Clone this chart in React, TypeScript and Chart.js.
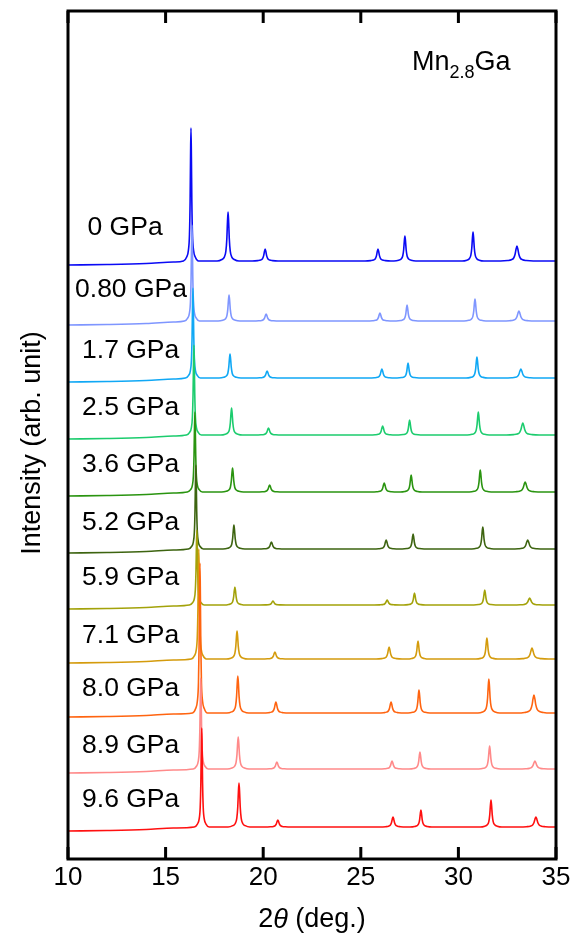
import React, { useEffect, useRef } from 'react';
import { Chart, registerables } from 'chart.js';

Chart.register(...registerables);

const FONT = '"Liberation Sans", Arial, Helvetica, sans-serif';

// Pressure labels (one trace each, top to bottom)
const pressures = ['0 GPa', '0.80 GPa', '1.7 GPa', '2.5 GPa', '3.6 GPa', '5.2 GPa', '5.9 GPa', '7.1 GPa', '8.0 GPa', '8.9 GPa', '9.6 GPa'];
const traceColors = ['#0a0af5', '#7f96ff', '#10a8f5', '#1ccc6e', '#2a9410', '#3d6410', '#a3a20a', '#d49b0c', '#ff6410', '#ff8a8a', '#ff1010'];
// vertical offsets of each trace's baseline (arb. units)
const baselines = [598, 538, 481, 424, 367, 310, 254, 200, 146, 90, 32];

// Peak positions (2θ, deg.) per trace
const peakPositions = [
  [16.3, 18.2, 20.1, 25.88, 27.26, 30.75, 33.0],
  [16.35, 18.25, 20.15, 25.98, 27.37, 30.85, 33.1],
  [16.4, 18.3, 20.2, 26.08, 27.42, 30.95, 33.2],
  [16.45, 18.38, 20.27, 26.12, 27.5, 31.02, 33.3],
  [16.5, 18.43, 20.33, 26.2, 27.58, 31.12, 33.42],
  [16.55, 18.5, 20.42, 26.3, 27.68, 31.25, 33.55],
  [16.6, 18.55, 20.5, 26.35, 27.75, 31.35, 33.65],
  [16.7, 18.66, 20.6, 26.45, 27.93, 31.46, 33.77],
  [16.76, 18.7, 20.65, 26.55, 27.98, 31.56, 33.87],
  [16.8, 18.72, 20.7, 26.6, 28.03, 31.6, 33.92],
  [16.85, 18.76, 20.75, 26.65, 28.08, 31.67, 33.97],
];
// Peak heights (arb. units) per trace
const peakHeights = [
  [133, 49, 12, 12, 25, 29, 15],
  [96, 26, 7, 8, 16, 22, 10],
  [90, 24, 7, 9, 15, 21, 9],
  [90, 27, 7, 9, 15, 23, 12],
  [80, 24, 7, 9, 17, 22, 10],
  [84, 24, 7, 9, 15, 22, 9],
  [75, 18, 4, 5, 12, 15, 7],
  [110, 28, 7, 12, 18, 21, 11],
  [150, 37, 11, 11, 23, 34, 18],
  [91, 32, 7, 8, 17, 23, 8],
  [99, 44, 7, 10, 17, 27, 10],
];
// relative widths of the reflections
const peakWidths = [1.1, 1.6, 1.9, 1.9, 1.6, 1.6, 2.4];
// sampled peak shape (offset in deg., relative intensity)
const profileDx = [-0.35, -0.2, -0.12, -0.07, -0.04, -0.02, 0, 0.02, 0.04, 0.07, 0.12, 0.2, 0.35];
const profileRel = [0, 0.03, 0.08, 0.2, 0.45, 0.78, 1, 0.78, 0.45, 0.2, 0.08, 0.03, 0];
// low-angle background (deg., offset)
const backgroundX = [10, 12, 14, 15.4];
const backgroundDy = [-4, -3.5, -2.5, -1];

// label placement (deg., arb. units)
const labelX = [11.0, 10.36, 10.72, 10.72, 10.72, 10.72, 10.72, 10.72, 10.72, 10.72, 10.72];
const labelY = [631, 569, 508, 451, 394, 336, 281, 223, 170, 113, 59];

const xTicks = [10, 15, 20, 25, 30, 35];
const X_MIN = 10;
const X_MAX = 35;
const Y_MIN = 0;
const Y_MAX = 848;

function buildTrace(i: number) {
  const pts: { x: number; y: number }[] = [];
  const b = baselines[i];
  backgroundX.forEach((x, k) => pts.push({ x, y: b + backgroundDy[k] }));
  peakPositions[i].forEach((p, k) => {
    const w = peakWidths[k];
    const h = peakHeights[i][k];
    profileDx.forEach((dx, m) => pts.push({ x: p + dx * w, y: b + h * profileRel[m] }));
  });
  pts.push({ x: X_MAX, y: b });
  return pts;
}

const framePlugin = {
  id: 'frame',
  afterDatasetsDraw(chart: any) {
    const { ctx, chartArea } = chart;
    const xs = chart.scales.x;
    const ys = chart.scales.y;
    const { left, right, top, bottom } = chartArea;
    ctx.save();
    // labels
    ctx.fillStyle = '#000';
    ctx.font = `26.5px ${FONT}`;
    ctx.textAlign = 'left';
    ctx.textBaseline = 'middle';
    pressures.forEach((t, i) => {
      ctx.fillText(t, xs.getPixelForValue(labelX[i]), ys.getPixelForValue(labelY[i]));
    });
    // frame
    ctx.strokeStyle = '#000';
    ctx.lineWidth = 3;
    ctx.strokeRect(left, top, right - left, bottom - top);
    // inward ticks
    xTicks.forEach((v) => {
      const px = xs.getPixelForValue(v);
      ctx.beginPath();
      ctx.moveTo(px, bottom);
      ctx.lineTo(px, bottom - 12);
      ctx.moveTo(px, top);
      ctx.lineTo(px, top + 12);
      ctx.stroke();
    });
    // compound name
    ctx.textAlign = 'left';
    ctx.textBaseline = 'alphabetic';
    let x = 412;
    ctx.font = `27px ${FONT}`;
    ctx.fillText('Mn', x, 70);
    x += ctx.measureText('Mn').width;
    ctx.font = `18px ${FONT}`;
    ctx.fillText('2.8', x, 78);
    x += ctx.measureText('2.8').width;
    ctx.font = `27px ${FONT}`;
    ctx.fillText('Ga', x, 70);
    // x title
    const parts = [
      { t: '2', f: `27px ${FONT}` },
      { t: 'θ', f: `italic 27px ${FONT}` },
      { t: ' (deg.)', f: `27px ${FONT}` },
    ];
    let total = 0;
    parts.forEach((p) => { ctx.font = p.f; total += ctx.measureText(p.t).width; });
    let cx = (left + right) / 2 - total / 2;
    ctx.textBaseline = 'middle';
    parts.forEach((p) => { ctx.font = p.f; ctx.fillText(p.t, cx, 920); cx += ctx.measureText(p.t).width; });
    // y title
    ctx.save();
    ctx.translate(33, 443);
    ctx.rotate(-Math.PI / 2);
    ctx.textAlign = 'center';
    ctx.font = `27px ${FONT}`;
    ctx.fillText('Intensity (arb. unit)', 0, 0);
    ctx.restore();
    ctx.restore();
  },
};

export default function App() {
  const ref = useRef<HTMLCanvasElement | null>(null);
  useEffect(() => {
    if (!ref.current) return;
    const datasets = pressures.map((p, i) => ({
      label: p,
      data: buildTrace(i),
      borderColor: traceColors[i],
      borderWidth: 1.6,
      pointRadius: 0,
      fill: false,
      cubicInterpolationMode: 'monotone' as const,
      order: pressures.length - i,
    }));
    const chart = new Chart(ref.current, {
      type: 'line',
      data: { datasets },
      options: {
        animation: false,
        responsive: false,
        devicePixelRatio: 1,
        layout: { padding: { left: 68, right: 22, top: 11, bottom: 0 } },
        plugins: { legend: { display: false }, tooltip: { enabled: false } },
        scales: {
          x: {
            type: 'linear',
            min: X_MIN,
            max: X_MAX,
            afterBuildTicks: (s: any) => { s.ticks = xTicks.map((v) => ({ value: v })); },
            afterFit: (s: any) => { s.height = 79; },
            grid: { display: false, drawTicks: false },
            border: { display: false },
            ticks: { color: '#000', font: { size: 26, family: FONT }, padding: 3, maxRotation: 0, autoSkip: false },
          },
          y: {
            type: 'linear',
            min: Y_MIN,
            max: Y_MAX,
            display: false,
          },
        },
      },
      plugins: [framePlugin],
    });
    return () => chart.destroy();
  }, []);
  return (
    <div style={{ position: 'absolute', left: 0, top: 0, width: 578, height: 938, background: '#fff' }}>
      <canvas ref={ref} width={578} height={938} style={{ width: 578, height: 938 }} />
    </div>
  );
}
